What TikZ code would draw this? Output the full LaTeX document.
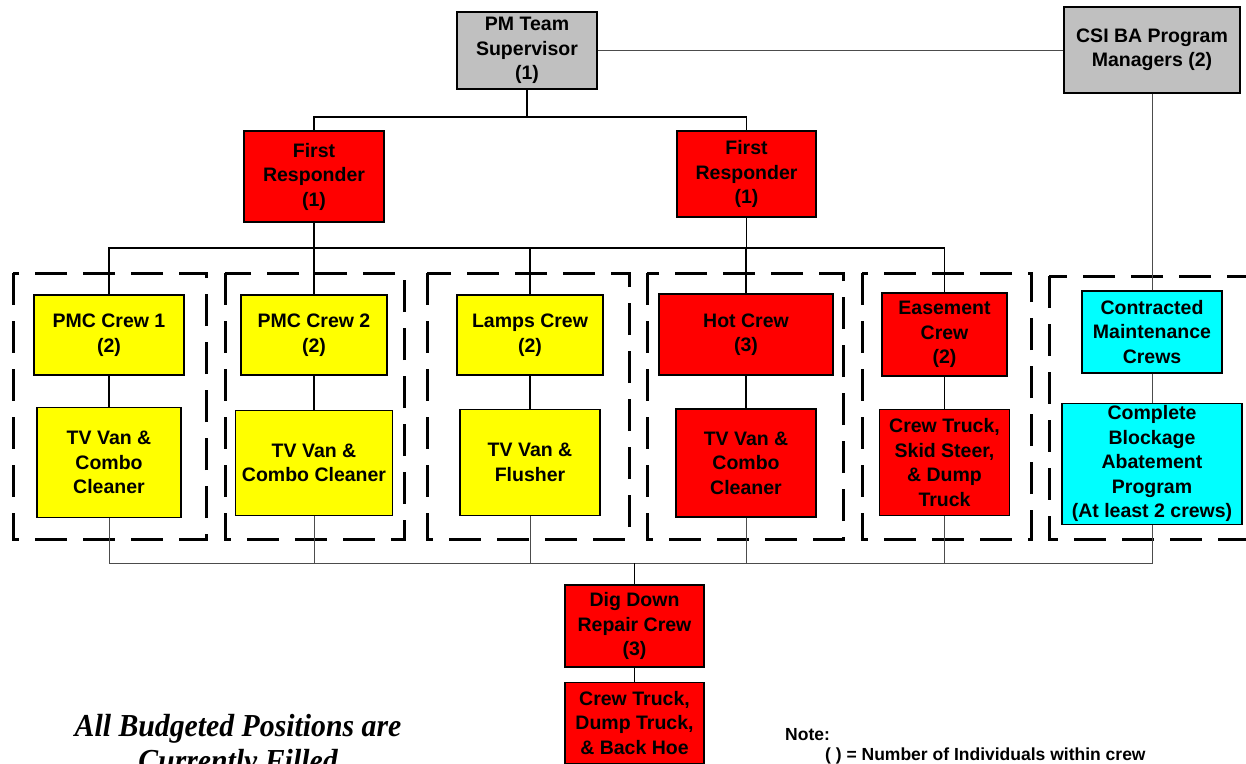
\documentclass[tikz,border=0pt]{standalone}
\usepackage{fontspec}
\setmainfont{Liberation Sans}
\newfontfamily\slogfont[FakeStretch=0.93]{Liberation Serif}
\usetikzlibrary{positioning}
\definecolor{crewyellow}{RGB}{255,255,0}
\definecolor{crewred}{RGB}{255,0,0}
\definecolor{mgrgray}{RGB}{192,192,192}
\definecolor{contrcyan}{RGB}{0,255,255}

\begin{document}
\begin{tikzpicture}[x=1pt, y=-1pt,
      box/.style={draw, line width=1.4pt, align=center, inner sep=1pt, font=\fontsize{19.5}{24.5}\selectfont\bfseries},
      graybox/.style={box, fill=mgrgray},
      redbox/.style={box, fill=crewred},
      yellowbox/.style={box, fill=crewyellow},
      cyanbox/.style={box, fill=contrcyan},
      link/.style={line width=1.4pt},
      thinlink/.style={line width=0.9pt, draw=black!70},
      crewgroup/.style={line width=3pt, dash pattern=on 32pt off 16pt}
    ]
      \clip (0,0) rectangle (1246,763);
      % dashed crew groups
      \draw[crewgroup] (13,273) rectangle (206,539);
      \draw[crewgroup] (225,273) rectangle (404,539);
      \draw[crewgroup] (427,273) rectangle (629,539);
      \draw[crewgroup] (647,273) rectangle (843,539);
      \draw[crewgroup] (862,273) rectangle (1031,539);
      \draw[crewgroup] (1049,276) rectangle (1275,539);
      % managers
      \node[graybox, minimum width=140pt, minimum height=77pt] (pm) at (527,50.5) {PM Team\\Supervisor\\(1)};
      \node[graybox, minimum width=176pt, minimum height=86pt] (csi) at (1152,50) {CSI BA Program\\Managers (2)};
      \node[redbox, minimum width=140pt, minimum height=91pt] (frl) at (314,176.5) {First\\Responder\\(1)};
      \node[redbox, minimum width=139pt, minimum height=86pt] (frr) at (746.5,174) {First\\Responder\\(1)};
      % crews
      \node[yellowbox, minimum width=150pt, minimum height=80pt] (pmc1) at (109,335) {PMC Crew 1\\(2)};
      \node[yellowbox, minimum width=146pt, minimum height=80pt] (pmc2) at (314,335) {PMC Crew 2\\(2)};
      \node[yellowbox, minimum width=146pt, minimum height=80pt] (lamps) at (530,335) {Lamps Crew\\(2)};
      \node[redbox, minimum width=174pt, minimum height=81pt] (hot) at (746,334.5) {Hot Crew\\(3)};
      \node[redbox, minimum width=125pt, minimum height=83pt] (ease) at (944.5,334.5) {Easement\\Crew\\(2)};
      \node[cyanbox, minimum width=140pt, minimum height=82pt] (contr) at (1152,332) {Contracted\\Maintenance\\Crews};
      % equipment
      \node[yellowbox, minimum width=144pt, minimum height=110pt, below=31pt of pmc1] (tv1) {TV Van \&\\Combo\\Cleaner};
      \node[yellowbox, minimum width=157pt, minimum height=105pt, below=34pt of pmc2] (tv2) {TV Van \&\\Combo Cleaner};
      \node[yellowbox, minimum width=140pt, minimum height=106pt, below=33pt of lamps] (flush) {TV Van \&\\Flusher};
      \node[redbox, minimum width=140pt, minimum height=108pt, below=32.5pt of hot] (tvhot) {TV Van \&\\Combo\\Cleaner};
      \node[redbox, minimum width=130pt, minimum height=106pt, below=32pt of ease] (skid) {Crew Truck,\\Skid Steer,\\\& Dump\\Truck};
      \node[cyanbox, minimum width=180pt, minimum height=121pt, below=29pt of contr] (block) {Complete\\Blockage\\Abatement\\Program\\(At least 2 crews)};
      \node[redbox, minimum width=139pt, minimum height=82pt] (dig) at (634.5,626) {Dig Down\\Repair Crew\\(3)};
      \node[redbox, minimum width=139pt, minimum height=81pt, below=14pt of dig] (dump) {Crew Truck,\\Dump Truck,\\\& Back Hoe};
      % buses
      \coordinate (topbus) at (0,117);
      \coordinate (crewbus) at (0,248);
      \coordinate (vehbus) at (0,563);
      \draw[link] (pm.south) -- (pm.south |- topbus);
      \draw[link] (frl.north) |- (topbus -| frr.north) -- (frr.north);
      \draw[link] (pmc1.north) |- (crewbus -| ease.north) -- (ease.north);
      \draw[link] (frl.south) -- (frl.south |- crewbus);
      \draw[link] (frr.south) -- (frr.south |- crewbus);
      \foreach \n in {pmc2, lamps, hot}
        \draw[link] (\n.north) -- (\n.north |- crewbus);
      \foreach \c/\v in {pmc1/tv1, pmc2/tv2, lamps/flush, hot/tvhot, ease/skid}
        \draw[link] (\c) -- (\v);
      \draw[thinlink] (pm.east) -- (pm.east -| csi.west);
      \draw[thinlink] (csi) -- (contr);
      \draw[thinlink] (contr) -- (block);
      \draw[thinlink] (tv1.south) |- (vehbus -| block.south) -- (block.south);
      \foreach \v in {tv2, flush, tvhot, skid}
        \draw[thinlink] (\v.south) -- (\v.south |- vehbus);
      \draw[link] (dig.north |- vehbus) -- (dig.north);
      \draw[link] (dig) -- (dump);
      % notes
      \node[align=center, inner sep=0pt, font=\slogfont\bfseries\itshape\fontsize{32}{35}\selectfont] (slogan) at (238,746.5) {All Budgeted Positions are\\Currently Filled};
      \node[anchor=base west, inner sep=0pt, font=\bfseries\fontsize{17.5}{20}\selectfont] (note) at (785,740) {Note:};
      \node[anchor=base west, inner sep=0pt, font=\bfseries\fontsize{17.5}{20}\selectfont] (notekey) at (825,760) {( ) = Number of Individuals within crew};
    \end{tikzpicture}
\end{document}
